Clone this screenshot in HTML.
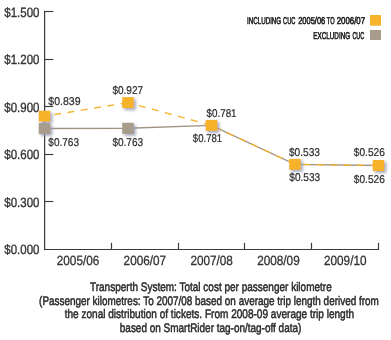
<!DOCTYPE html>
<html><head><meta charset="utf-8"><style>
html,body{margin:0;padding:0;background:#fff;width:391px;height:340px;overflow:hidden}
svg{display:block}
text{font-family:"Liberation Sans", sans-serif;text-rendering:geometricPrecision}
</style></head><body>
<div style="will-change:transform"><svg width="391" height="340" viewBox="0 0 391 340">
<defs><filter id="sh" x="-50%" y="-50%" width="200%" height="200%"><feGaussianBlur in="SourceAlpha" stdDeviation="1.5"/><feOffset dx="2" dy="1.6" result="b"/><feColorMatrix in="b" type="matrix" values="0 0 0 0 0.3  0 0 0 0 0.33  0 0 0 0 0.45  0 0 0 0.85 0" result="s"/><feMerge><feMergeNode in="s"/><feMergeNode in="SourceGraphic"/></feMerge></filter></defs>
<rect width="391" height="340" fill="#fff"/>
<path d="M44.6 10.9 V250.1" stroke="#3c3c3c" stroke-width="1.25" fill="none"/>
<path d="M44 249.5 H379" stroke="#3c3c3c" stroke-width="1.2" fill="none"/>
<path d="M44 11.50 H53.3" stroke="#3c3c3c" stroke-width="1.15" fill="none"/>
<path d="M44 59.50 H53.3" stroke="#3c3c3c" stroke-width="1.15" fill="none"/>
<path d="M44 106.50 H53.3" stroke="#3c3c3c" stroke-width="1.15" fill="none"/>
<path d="M44 154.50 H53.3" stroke="#3c3c3c" stroke-width="1.15" fill="none"/>
<path d="M44 201.50 H53.3" stroke="#3c3c3c" stroke-width="1.15" fill="none"/>
<path d="M111.50 242.8 V249.5" stroke="#3c3c3c" stroke-width="1.2" fill="none"/>
<path d="M178.50 242.8 V249.5" stroke="#3c3c3c" stroke-width="1.2" fill="none"/>
<path d="M244.50 242.8 V249.5" stroke="#3c3c3c" stroke-width="1.2" fill="none"/>
<path d="M311.50 242.8 V249.5" stroke="#3c3c3c" stroke-width="1.2" fill="none"/>
<path d="M378.50 242.8 V249.5" stroke="#3c3c3c" stroke-width="1.2" fill="none"/>
<text x="4.30" y="16.60" font-size="13.4" textLength="35.10" lengthAdjust="spacingAndGlyphs" font-weight="normal" fill="#333" stroke="#333" stroke-width="0.35" >$1.500</text>
<text x="4.30" y="64.16" font-size="13.4" textLength="35.10" lengthAdjust="spacingAndGlyphs" font-weight="normal" fill="#333" stroke="#333" stroke-width="0.35" >$1.200</text>
<text x="4.30" y="111.72" font-size="13.4" textLength="35.10" lengthAdjust="spacingAndGlyphs" font-weight="normal" fill="#333" stroke="#333" stroke-width="0.35" >$0.900</text>
<text x="4.30" y="159.28" font-size="13.4" textLength="35.10" lengthAdjust="spacingAndGlyphs" font-weight="normal" fill="#333" stroke="#333" stroke-width="0.35" >$0.600</text>
<text x="4.30" y="206.84" font-size="13.4" textLength="35.10" lengthAdjust="spacingAndGlyphs" font-weight="normal" fill="#333" stroke="#333" stroke-width="0.35" >$0.300</text>
<text x="4.30" y="254.40" font-size="13.4" textLength="35.10" lengthAdjust="spacingAndGlyphs" font-weight="normal" fill="#333" stroke="#333" stroke-width="0.35" >$0.000</text>
<text x="56.80" y="264.50" font-size="13.3" textLength="42.50" lengthAdjust="spacingAndGlyphs" font-weight="normal" fill="#333" stroke="#333" stroke-width="0.3" >2005/06</text>
<text x="123.60" y="264.50" font-size="13.3" textLength="42.50" lengthAdjust="spacingAndGlyphs" font-weight="normal" fill="#333" stroke="#333" stroke-width="0.3" >2006/07</text>
<text x="190.40" y="264.50" font-size="13.3" textLength="42.50" lengthAdjust="spacingAndGlyphs" font-weight="normal" fill="#333" stroke="#333" stroke-width="0.3" >2007/08</text>
<text x="257.20" y="264.50" font-size="13.3" textLength="42.50" lengthAdjust="spacingAndGlyphs" font-weight="normal" fill="#333" stroke="#333" stroke-width="0.3" >2008/09</text>
<text x="324.00" y="264.50" font-size="13.3" textLength="42.50" lengthAdjust="spacingAndGlyphs" font-weight="normal" fill="#333" stroke="#333" stroke-width="0.3" >2009/10</text>
<polyline points="44.50,128.50 128.00,128.30 211.50,125.40 295.00,164.40 378.50,165.50" stroke="#9f9383" stroke-width="1.4" fill="none"/>
<path d="M44.50 116.20 L128.00 102.60" stroke="#f6b32b" stroke-width="1.35" stroke-dasharray="7 6.5" stroke-dashoffset="3.80" fill="none"/>
<path d="M128.00 102.60 L211.50 125.40" stroke="#f6b32b" stroke-width="1.35" stroke-dasharray="7 6.5" stroke-dashoffset="2.30" fill="none"/>
<path d="M211.50 125.40 L295.00 164.40" stroke="#f6b32b" stroke-width="1.35" stroke-dasharray="7 6.5" stroke-dashoffset="10.10" fill="none"/>
<path d="M295.00 164.40 L378.50 165.50" stroke="#f6b32b" stroke-width="1.35" stroke-dasharray="7 6.5" stroke-dashoffset="5.40" fill="none"/>
<rect x="38.70" y="123.00" width="11.6" height="11" fill="#a89d8d" filter="url(#sh)"/>
<rect x="122.20" y="122.80" width="11.6" height="11" fill="#a89d8d" filter="url(#sh)"/>
<rect x="38.70" y="110.70" width="11.6" height="11" fill="#f6b32b" filter="url(#sh)"/>
<rect x="122.20" y="97.10" width="11.6" height="11" fill="#f6b32b" filter="url(#sh)"/>
<rect x="205.70" y="119.90" width="11.6" height="11" fill="#f6b32b" filter="url(#sh)"/>
<rect x="289.20" y="158.90" width="11.6" height="11" fill="#f6b32b" filter="url(#sh)"/>
<rect x="372.70" y="160.00" width="11.6" height="11" fill="#f6b32b" filter="url(#sh)"/>
<text x="48.30" y="104.90" font-size="11.3" textLength="32.20" lengthAdjust="spacingAndGlyphs" font-weight="normal" fill="#2e2e2e" stroke="#2e2e2e" stroke-width="0.22" >$0.839</text>
<text x="112.40" y="93.80" font-size="11.3" textLength="30.70" lengthAdjust="spacingAndGlyphs" font-weight="normal" fill="#2e2e2e" stroke="#2e2e2e" stroke-width="0.22" >$0.927</text>
<text x="48.30" y="145.90" font-size="11.3" textLength="30.70" lengthAdjust="spacingAndGlyphs" font-weight="normal" fill="#2e2e2e" stroke="#2e2e2e" stroke-width="0.22" >$0.763</text>
<text x="112.40" y="146.10" font-size="11.3" textLength="30.70" lengthAdjust="spacingAndGlyphs" font-weight="normal" fill="#2e2e2e" stroke="#2e2e2e" stroke-width="0.22" >$0.763</text>
<text x="206.50" y="117.40" font-size="11.3" textLength="30.10" lengthAdjust="spacingAndGlyphs" font-weight="normal" fill="#2e2e2e" stroke="#2e2e2e" stroke-width="0.22" >$0.781</text>
<text x="192.80" y="141.90" font-size="11.3" textLength="29.40" lengthAdjust="spacingAndGlyphs" font-weight="normal" fill="#2e2e2e" stroke="#2e2e2e" stroke-width="0.22" >$0.781</text>
<text x="288.90" y="156.00" font-size="11.3" textLength="31.10" lengthAdjust="spacingAndGlyphs" font-weight="normal" fill="#2e2e2e" stroke="#2e2e2e" stroke-width="0.22" >$0.533</text>
<text x="289.30" y="180.90" font-size="11.3" textLength="30.90" lengthAdjust="spacingAndGlyphs" font-weight="normal" fill="#2e2e2e" stroke="#2e2e2e" stroke-width="0.22" >$0.533</text>
<text x="353.80" y="156.30" font-size="11.3" textLength="31.10" lengthAdjust="spacingAndGlyphs" font-weight="normal" fill="#2e2e2e" stroke="#2e2e2e" stroke-width="0.22" >$0.526</text>
<text x="353.80" y="183.10" font-size="11.3" textLength="31.10" lengthAdjust="spacingAndGlyphs" font-weight="normal" fill="#2e2e2e" stroke="#2e2e2e" stroke-width="0.22" >$0.526</text>
<text x="247.00" y="23.60" font-size="9.9" textLength="34.20" lengthAdjust="spacingAndGlyphs" font-weight="normal" fill="#222" stroke="#222" stroke-width="0.6" >INCLUDING</text>
<text x="283.00" y="23.60" font-size="9.9" textLength="12.40" lengthAdjust="spacingAndGlyphs" font-weight="normal" fill="#222" stroke="#222" stroke-width="0.6" >CUC</text>
<text x="298.20" y="23.60" font-size="9.9" textLength="27.00" lengthAdjust="spacingAndGlyphs" font-weight="normal" fill="#222" stroke="#222" stroke-width="0.6" >2005/06</text>
<text x="326.80" y="23.60" font-size="9.9" textLength="7.80" lengthAdjust="spacingAndGlyphs" font-weight="normal" fill="#222" stroke="#222" stroke-width="0.6" >TO</text>
<text x="336.70" y="23.60" font-size="9.9" textLength="28.40" lengthAdjust="spacingAndGlyphs" font-weight="normal" fill="#222" stroke="#222" stroke-width="0.6" >2006/07</text>
<text x="313.30" y="38.90" font-size="9.9" textLength="36.80" lengthAdjust="spacingAndGlyphs" font-weight="normal" fill="#222" stroke="#222" stroke-width="0.6" >EXCLUDING</text>
<text x="352.40" y="38.90" font-size="9.9" textLength="11.90" lengthAdjust="spacingAndGlyphs" font-weight="normal" fill="#222" stroke="#222" stroke-width="0.6" >CUC</text>
<rect x="370" y="15" width="11" height="10.7" fill="#f6b32b"/>
<rect x="370" y="30" width="11" height="10" fill="#a89d8d"/>
<text x="90.00" y="290.60" font-size="12.4" textLength="241.70" lengthAdjust="spacingAndGlyphs" font-weight="normal" fill="#2a2a2a" stroke="#2a2a2a" stroke-width="0.5" >Transperth System: Total cost per passenger kilometre</text>
<text x="39.10" y="305.00" font-size="12.4" textLength="339.70" lengthAdjust="spacingAndGlyphs" font-weight="normal" fill="#2a2a2a" stroke="#2a2a2a" stroke-width="0.5" >(Passenger kilometres: To 2007/08 based on average trip length derived from</text>
<text x="64.70" y="318.10" font-size="12.4" textLength="289.40" lengthAdjust="spacingAndGlyphs" font-weight="normal" fill="#2a2a2a" stroke="#2a2a2a" stroke-width="0.5" >the zonal distribution of tickets. From 2008-09 average trip length</text>
<text x="119.80" y="331.80" font-size="12.4" textLength="181.50" lengthAdjust="spacingAndGlyphs" font-weight="normal" fill="#2a2a2a" stroke="#2a2a2a" stroke-width="0.5" >based on SmartRider tag-on/tag-off data)</text>
</svg></div>
</body></html>
